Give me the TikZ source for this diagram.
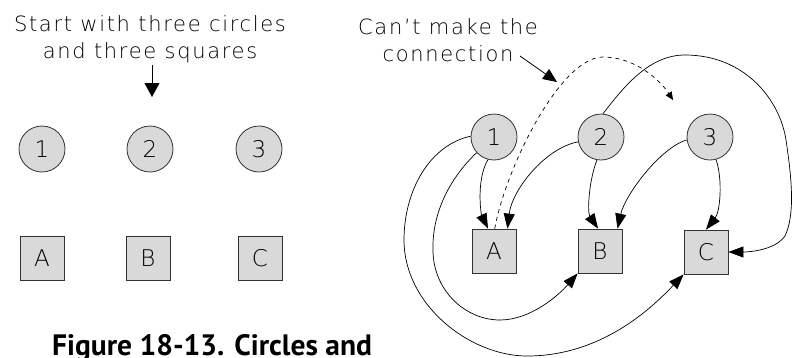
\documentclass[tikz,border=0pt]{standalone}
\usepackage{fontspec}
\setmainfont{DejaVu Sans}
\newfontfamily\hand{DejaVu Sans ExtraLight}
\newfontfamily\handw{DejaVu Sans ExtraLight}[LetterSpace=8]
\newfontfamily\capfont{PT Sans}
\usetikzlibrary{arrows.meta,calc}
\begin{document}
\begin{tikzpicture}[x=1pt,y=1pt,
  circ/.style={circle, draw=black!80, fill=black!15, line width=0.8pt, minimum size=46pt, inner sep=0pt, font=\hand\fontsize{23}{23}\selectfont},
  sq/.style={rectangle, draw=black!80, fill=black!15, line width=0.8pt, minimum size=44pt, inner sep=0pt, font=\hand\fontsize{23}{23}\selectfont},
  conn/.style={line width=0.7pt, -{Triangle[length=15pt,width=11pt]}},
  note/.style={font=\handw\fontsize{21}{27}\selectfont, align=center, inner sep=0pt},
]
\useasboundingbox (0,0) rectangle (795,-357);
\clip (0,0) rectangle (795,-357);

% ---------- left part ----------
\node[note] (lnote) at (150,-39) {Start with three circles\\and three squares};
\coordinate (la0) at (152,-65);
\coordinate (la1) at (152,-97);
\draw[line width=0.8pt, -{Triangle[length=14pt,width=15pt]}] (la0) -- (la1);

\node[circ] (L1) at (42,-149) {1};
\node[circ] (L2) at (150,-149) {2};
\node[circ] (L3) at (259,-149) {3};
\node[sq] (LA) at (42,-258) {A};
\node[sq] (LB) at (148,-258) {B};
\node[sq] (LC) at (260,-258) {C};

\node[anchor=base west, inner sep=0pt, font=\capfont\bfseries\fontsize{29.5}{30}\selectfont] (cap) at (52,-355) {Figure 18-13. Circles and};

% ---------- right part ----------
\node[note] (rnote) at (448,-40) {Can’t make the\\connection};
\coordinate (t0) at (520,-56);
\coordinate (t1) at (557,-82);
\draw[line width=0.8pt, -{Triangle[length=14pt,width=12pt]}] (t0) -- (t1);

\node[circ] (c1) at (494,-137) {1};
\node[circ] (c2) at (601,-137) {2};
\node[circ] (c3) at (710,-137) {3};
\node[sq] (sA) at (494,-251) {A};
\node[sq] (sB) at (600,-251) {B};
\node[sq] (sC) at (706,-252) {C};

% dashed attempt
\coordinate (dpk) at (603,-57);
\coordinate (dend) at (673,-100);
\draw[line width=0.7pt, dash pattern=on 4pt off 4pt, -{Triangle[length=8pt,width=7pt]}]
  (sA.88) .. controls (505,-170) and (560,-57) .. (dpk)
  .. controls (635,-57) and (660,-80) .. (dend);

% 1 -> A
\draw[conn] (c1.255) .. controls (476,-180) and (481,-214) .. (sA.105);
% 2 -> A
\draw[conn] (c2.192) .. controls (545,-148) and (512,-190) .. (sA.59);
% 1 -> B around bottom
\draw[conn] (c1.222) .. controls (448,-180) and (432,-215) .. (433,-250)
  .. controls (433,-290) and (465,-320) .. (500,-320)
  .. controls (530,-320) and (558,-296) .. (sB.south west);
% 1 -> C outer
\draw[conn] (c1.178) .. controls (430,-145) and (404,-190) .. (404,-240)
  .. controls (404,-305) and (470,-356) .. (527,-356)
  .. controls (600,-356) and (650,-310) .. (sC.south west);
% 2 -> B
\draw[conn] (c2.260) .. controls (589,-180) and (587,-212) .. (sB.95);
% 3 -> B
\draw[conn] (c3.187) .. controls (660,-148) and (625,-195) .. (sB.52);
% 3 -> C
\draw[conn] (c3.285) .. controls (723,-180) and (720,-212) .. (sC.north);
% 2 -> C over the top
\draw[conn] (c2.85) .. controls (625,-85) and (650,-55) .. (685,-55)
  .. controls (745,-55) and (780,-100) .. (786,-140)
  .. controls (792,-180) and (795,-215) .. (785,-236)
  .. controls (775,-250) and (750,-252) .. (sC.east);
\end{tikzpicture}
\end{document}
